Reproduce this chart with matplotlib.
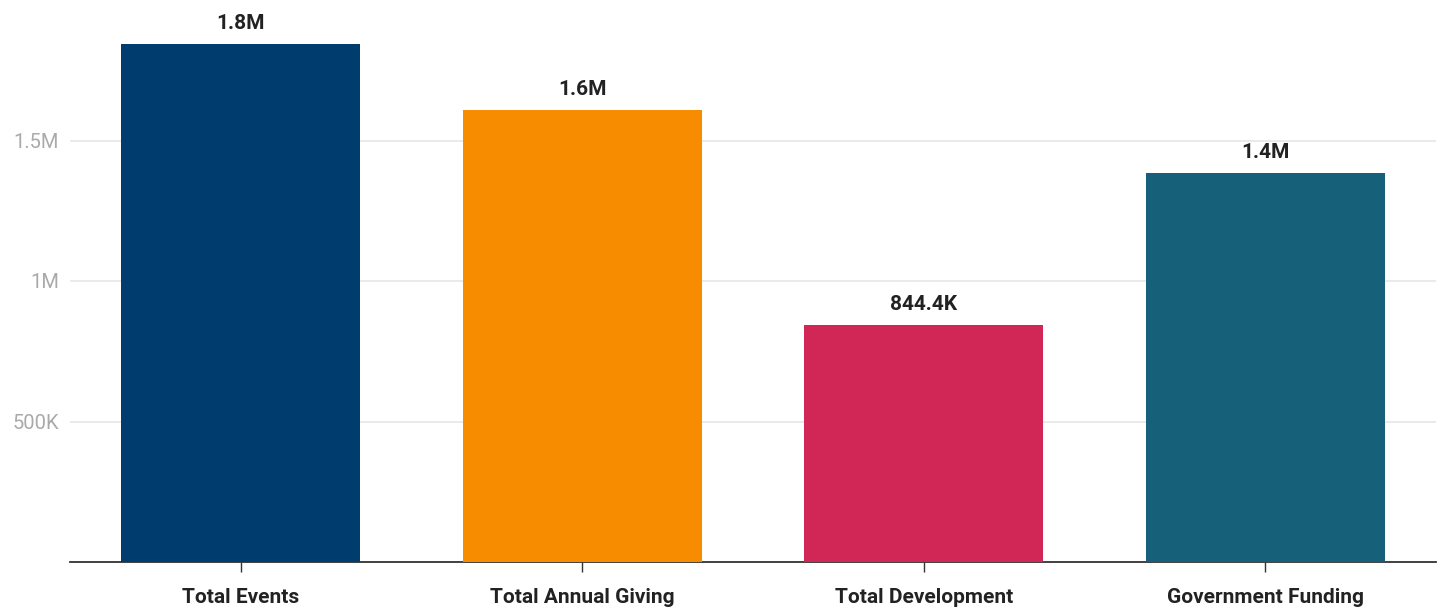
import matplotlib.pyplot as plt
from matplotlib.ticker import FuncFormatter

# Daten
categories = ["Total Events", "Total Annual Giving", "Total Development", "Government Funding"]
values = [1843000, 1608000, 844400, 1384000]
colors = ["#003d6e", "#f78c00", "#d12756", "#176079"]
yticks = [0, 500000, 1000000, 1500000]


def fmt(v, pos=None):
    if v == 0:
        return ""
    if v >= 1e6:
        s = f"{v / 1e6:.1f}".rstrip("0").rstrip(".")
        return s + "M"
    s = f"{v / 1e3:.1f}".rstrip("0").rstrip(".")
    return s + "K"


plt.rcParams["font.family"] = ["Roboto", "DejaVu Sans"]

fig = plt.figure(figsize=(14.42, 6.10), dpi=100)
ax = fig.add_axes([70 / 1442, 48 / 610, 1366 / 1442, 562 / 610])

x = range(len(categories))
bars = ax.bar(x, values, width=0.7, color=colors, zorder=3)

# Wertebeschriftung über den Balken
for b, v in zip(bars, values):
    ax.annotate(fmt(v), (b.get_x() + b.get_width() / 2, v), xytext=(0, 8),
                textcoords="offset points", ha="center", va="bottom",
                fontsize=15, fontweight="bold", color="#222222")

ax.set_xlim(-0.5, 3.5)
ax.set_ylim(0, 2000000)
ax.set_xticks(list(x))
ax.set_xticklabels(categories, fontsize=15, fontweight="bold", color="#222222")
ax.set_yticks(yticks)
ax.yaxis.set_major_formatter(FuncFormatter(fmt))
ax.tick_params(axis="y", length=0, labelsize=14.5, labelcolor="#aaaaaa", pad=8)
ax.tick_params(axis="x", length=7, width=1, color="#333333", pad=12)

ax.grid(axis="y", color="#e6e6e6", linewidth=1.2, zorder=0)
for s in ["top", "right", "left"]:
    ax.spines[s].set_visible(False)
ax.spines["bottom"].set_color("#333333")
ax.spines["bottom"].set_linewidth(1.3)

fig.savefig("out.png", dpi=100)
